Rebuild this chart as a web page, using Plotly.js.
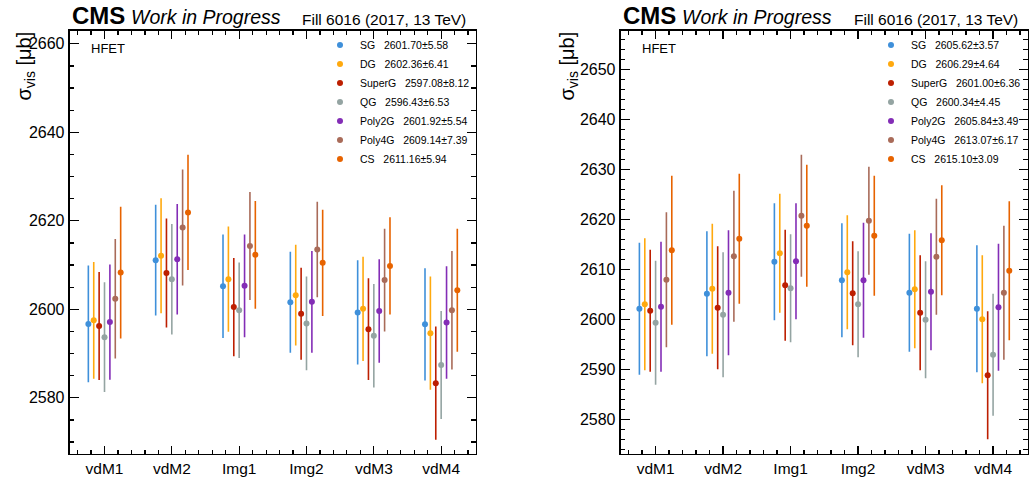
<!DOCTYPE html>
<html>
<head>
<meta charset="utf-8">
<script src="https://cdn.plot.ly/plotly-3.0.1.min.js"></script>
<style>html,body{margin:0;padding:0;background:#fff;}#chart{width:1032px;height:477px;}</style>
</head>
<body>
<div id="chart"></div>
<script>
// ---- data ----
const categories = ["vdM1", "vdM2", "Img1", "Img2", "vdM3", "vdM4"];
const seriesNames = ["SG", "DG", "SuperG", "QG", "Poly2G", "Poly4G", "CS"];
const seriesColors = ["#3f90da", "#ffa90e", "#bd1f01", "#94a4a2", "#832db6", "#a96b59", "#e76300"];

// left panel values (sigma_vis, ub)
const leftSG     = [2596.7, 2611.1, 2605.2, 2601.6, 2599.3, 2596.6];
const leftDG     = [2597.5, 2612.1, 2606.8, 2603.2, 2600.1, 2594.6];
const leftSuperG = [2596.2, 2608.2, 2600.5, 2599.0, 2595.5, 2583.3];
const leftQG     = [2593.7, 2606.8, 2599.8, 2596.8, 2594.0, 2587.4];
const leftPoly2G = [2597.1, 2611.3, 2605.3, 2601.7, 2599.6, 2597.0];
const leftPoly4G = [2602.4, 2618.5, 2614.3, 2613.5, 2606.6, 2599.8];
const leftCS     = [2608.3, 2621.9, 2612.3, 2610.5, 2609.8, 2604.3];

// right panel values
const rightSG     = [2602.1, 2605.1, 2611.5, 2607.8, 2605.3, 2602.1];
const rightDG     = [2603.0, 2606.1, 2613.2, 2609.4, 2606.0, 2600.0];
const rightSuperG = [2601.7, 2602.3, 2606.8, 2605.2, 2601.3, 2588.8];
const rightQG     = [2599.3, 2600.9, 2606.2, 2603.0, 2599.9, 2592.9];
const rightPoly2G = [2602.5, 2605.3, 2611.6, 2607.8, 2605.5, 2602.4];
const rightPoly4G = [2607.9, 2612.6, 2620.7, 2619.7, 2612.5, 2605.3];
const rightCS     = [2613.8, 2616.1, 2618.7, 2616.7, 2615.8, 2609.7];

// uncertainties (same for both panels)
const errSG     = [13.2, 12.5, 11.7, 11.4, 11.8, 12.7];
const errDG     = [13.2, 13.0, 11.9, 11.4, 11.8, 12.8];
const errSuperG = [12.2, 12.3, 11.1, 10.4, 11.5, 12.8];
const errQG     = [12.4, 12.5, 10.8, 10.6, 11.7, 12.2];
const errPoly2G = [13.0, 12.5, 11.6, 11.5, 11.7, 12.7];
const errPoly4G = [13.5, 13.1, 12.2, 10.8, 11.6, 13.4];
const errCS     = [14.9, 13.0, 12.2, 12.0, 11.0, 13.9];

// legend labels
const leftLegend  = ["2601.70±5.58", "2602.36±6.41", "2597.08±8.12", "2596.43±6.53", "2601.92±5.54", "2609.14±7.39", "2611.16±5.94"];
const rightLegend = ["2605.62±3.57", "2606.29±4.64", "2601.00±6.36", "2600.34±4.45", "2605.84±3.49", "2613.07±6.17", "2615.10±3.09"];

const leftValues  = [leftSG, leftDG, leftSuperG, leftQG, leftPoly2G, leftPoly4G, leftCS];
const rightValues = [rightSG, rightDG, rightSuperG, rightQG, rightPoly2G, rightPoly4G, rightCS];
const errors      = [errSG, errDG, errSuperG, errQG, errPoly2G, errPoly4G, errCS];

// ---- build traces ----
const FONT = "Liberation Sans, Arial, Helvetica, sans-serif";
const dodge = 0.08;
const nbsp = "\u00a0\u00a0\u00a0";
const traces = [];
function addPanel(values, legendLabels, xa, ya, legendId) {
  values.forEach((vals, s) => {
    traces.push({
      type: "scatter",
      mode: "markers",
      x: categories.map((c, i) => i + (s - 3) * dodge),
      y: vals,
      error_y: {type: "data", array: errors[s], visible: true, color: seriesColors[s], thickness: 1.6, width: 0},
      marker: {color: seriesColors[s], size: 6},
      name: seriesNames[s] + nbsp + legendLabels[s],
      xaxis: xa, yaxis: ya,
      legend: legendId,
      hoverinfo: "x+y+name"
    });
  });
}
addPanel(leftValues, leftLegend, "x", "y", "legend");
addPanel(rightValues, rightLegend, "x2", "y2", "legend2");

function xaxisDef(domain, anchor) {
  return {
    domain: domain, anchor: anchor, range: [-0.52, 5.51],
    tickmode: "array", tickvals: categories.map((c, i) => i), ticktext: categories,
    ticks: "inside", ticklen: 8, tickwidth: 1.3, tickcolor: "#000",
    showline: true, linecolor: "#000", linewidth: 1.8, mirror: "allticks",
    showgrid: false, zeroline: false,
    tickfont: {family: FONT, size: 15.5, color: "#000"},
    minor: {tickmode: "linear", tick0: 0, dtick: 0.2, ticks: "inside", ticklen: 4, tickwidth: 1.2, tickcolor: "#000", showgrid: false}
  };
}
function yaxisDef(domain, anchor, range, dtick, mdtick) {
  return {
    domain: domain, anchor: anchor, range: range,
    tickmode: "linear", tick0: 2500, dtick: dtick,
    ticks: "inside", ticklen: 9, tickwidth: 1.3, tickcolor: "#000",
    showline: true, linecolor: "#000", linewidth: 1.8, mirror: "allticks",
    showgrid: false, zeroline: false,
    tickfont: {family: FONT, size: 16, color: "#000"},
    minor: {tickmode: "linear", tick0: 2500, dtick: mdtick, ticks: "inside", ticklen: 4.5, tickwidth: 1.2, tickcolor: "#000", showgrid: false}
  };
}

const W = 1032, H = 477;
const px = v => v / W;
const py = v => (H - v) / H;
const ydom = [py(453.5), py(31)];

function headerAnn(x0, xr) {
  return [
    {text: "<b>CMS</b>", x: px(x0), y: py(31.5), xref: "paper", yref: "paper", xanchor: "left", yanchor: "bottom", showarrow: false, font: {family: FONT, size: 24, color: "#000"}},
    {text: "<i>Work in Progress</i>", x: px(x0 + 59), y: py(30.5), xref: "paper", yref: "paper", xanchor: "left", yanchor: "bottom", showarrow: false, font: {family: FONT, size: 19.5, color: "#000"}},
    {text: "Fill 6016 (2017, 13 TeV)", x: px(xr), y: py(29.5), xref: "paper", yref: "paper", xanchor: "right", yanchor: "bottom", showarrow: false, font: {family: FONT, size: 15.5, color: "#000"}},
    {text: "HFET", x: px(x0 + 19), y: py(48.5), xref: "paper", yref: "paper", xanchor: "left", yanchor: "middle", showarrow: false, font: {family: FONT, size: 13, color: "#000"}}
  ];
}
const yTitleAnn = xc => ({
  text: "σ<sub>vis</sub> [μb]", textangle: -90, x: px(xc), y: py(30), xref: "paper", yref: "paper",
  xanchor: "center", yanchor: "top", showarrow: false, font: {family: FONT, size: 20, color: "#000"}
});

const legendBase = {yanchor: "top", xanchor: "left", bgcolor: "rgba(0,0,0,0)", borderwidth: 0,
                    font: {family: FONT, size: 10.5, color: "#000"}, itemwidth: 30, tracegroupgap: 0};

const layout = {
  width: W, height: H,
  margin: {l: 0, r: 0, t: 0, b: 0},
  paper_bgcolor: "#fff", plot_bgcolor: "#fff",
  font: {family: FONT, color: "#000"},
  showlegend: true,
  xaxis: xaxisDef([px(69.5), px(475.5)], "y"),
  yaxis: yaxisDef(ydom, "x", [2567.41, 2662.89], 20, 5),
  xaxis2: xaxisDef([px(620.5), px(1027.5)], "y2"),
  yaxis2: yaxisDef(ydom, "x2", [2573.16, 2657.66], 10, 2),
  legend: Object.assign({x: px(320), y: py(30.5)}, legendBase),
  legend2: Object.assign({x: px(871), y: py(30.5)}, legendBase),
  annotations: [].concat(headerAnn(70, 468), headerAnn(621, 1020), [yTitleAnn(25), yTitleAnn(568)])
};

Plotly.newPlot("chart", traces, layout, {displayModeBar: false, staticPlot: true});
</script>
</body>
</html>
